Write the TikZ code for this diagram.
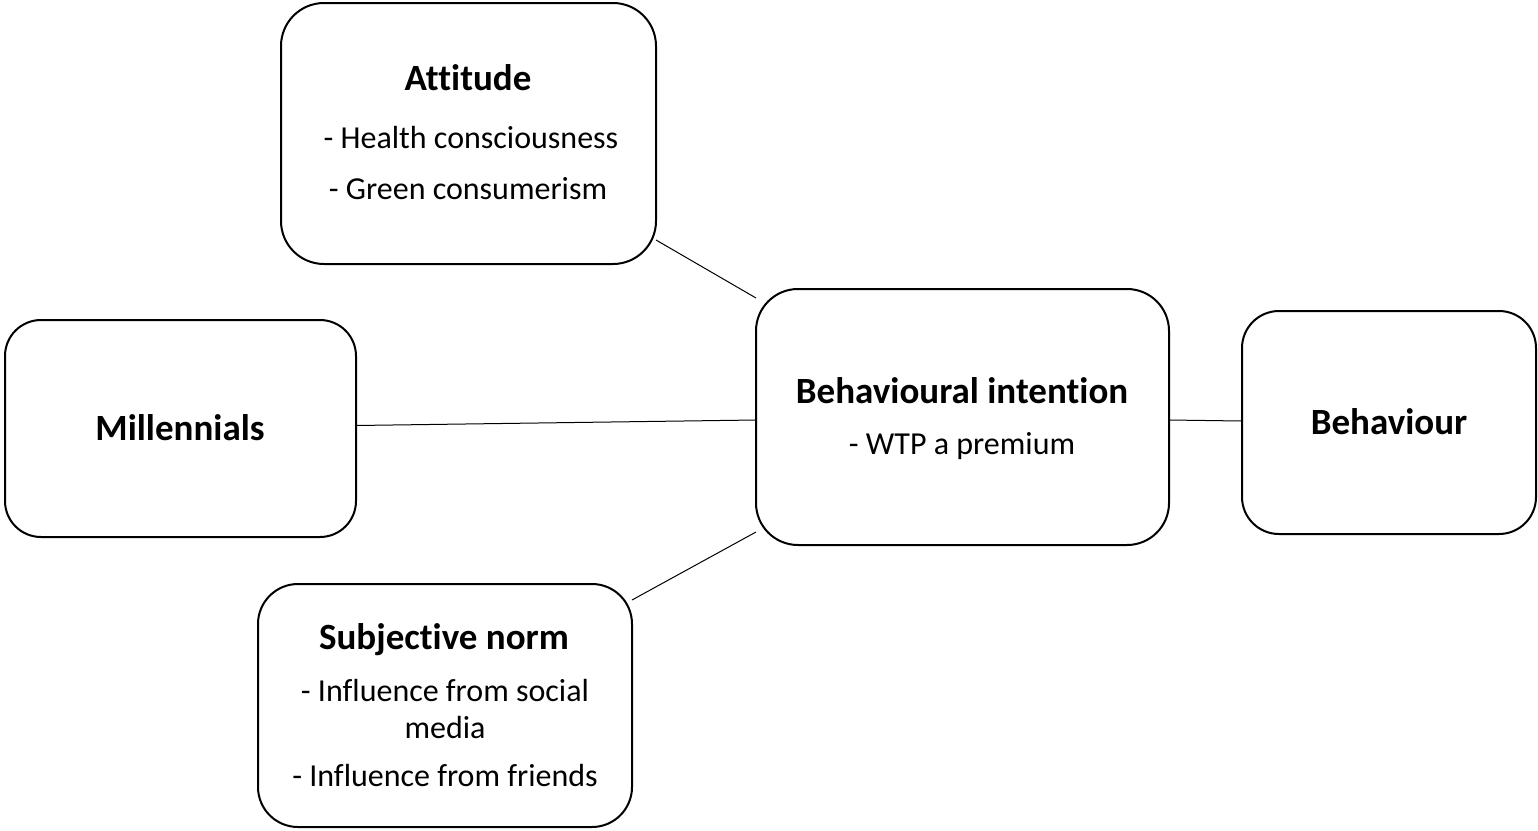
\documentclass[tikz,border=0pt]{standalone}
\usepackage{fontspec}
\setmainfont{Carlito}[Ligatures=NoCommon]
\usetikzlibrary{calc}
\tikzset{
  box/.style={draw=black, line width=2pt, fill=white, inner sep=0pt, outer sep=0pt},
  link/.style={draw=black, line width=1pt},
  head/.style={anchor=base, inner sep=0pt, font=\fontsize{37}{44}\selectfont\bfseries},
  body/.style={anchor=base, inner sep=0pt, font=\fontsize{32}{38}\selectfont},
}
\begin{document}
\begin{tikzpicture}[x=1pt,y=-1pt]
\useasboundingbox (0,0) rectangle (1538,830);
\fill[white] (0,0) rectangle (1538,830);

\node[box, rounded corners=43pt, minimum width=375pt, minimum height=261pt] (att) at (468.5,133.5) {};
\node[box, rounded corners=36pt, minimum width=351pt, minimum height=217pt] (mil) at (180.5,428.5) {};
\node[box, rounded corners=42pt, minimum width=413pt, minimum height=256pt] (bi) at (962.5,417) {};
\node[box, rounded corners=37pt, minimum width=294pt, minimum height=223pt] (beh) at (1389,422.5) {};
\node[box, rounded corners=40pt, minimum width=374pt, minimum height=243pt] (sn) at (445,705.5) {};

\draw[link] ($(att.south east)+(0,-24)$) -- ($(bi.north west)+(0,9)$);
\draw[link] ($(mil.east)+(0,-3)$) -- ($(bi.west)+(0,3)$);
\draw[link] ($(bi.east)+(0,3)$) -- ($(beh.west)+(0,-1.5)$);
\draw[link] ($(sn.north east)+(0,16)$) -- ($(bi.south west)+(0,-13)$);

\node[head] (attH) at (468,90) {Attitude};
\node[body] (attA) at (471,148) {- Health consciousness};
\node[body] (attB) at (468,199) {- Green consumerism};

\node[head] (milH) at (180,440) {Millennials};

\node[head] (biH) at (962,403) {Behavioural intention};
\node[body] (biA) at (962,454) {- WTP a premium};

\node[head] (behH) at (1389,434) {Behaviour};

\node[head] (snH) at (444,649) {Subjective norm};
\node[body] (snA) at (445,701) {- Influence from social};
\node[body] (snB) at (445,738) {media};
\node[body] (snC) at (445,786) {- Influence from friends};
\end{tikzpicture}
\end{document}
